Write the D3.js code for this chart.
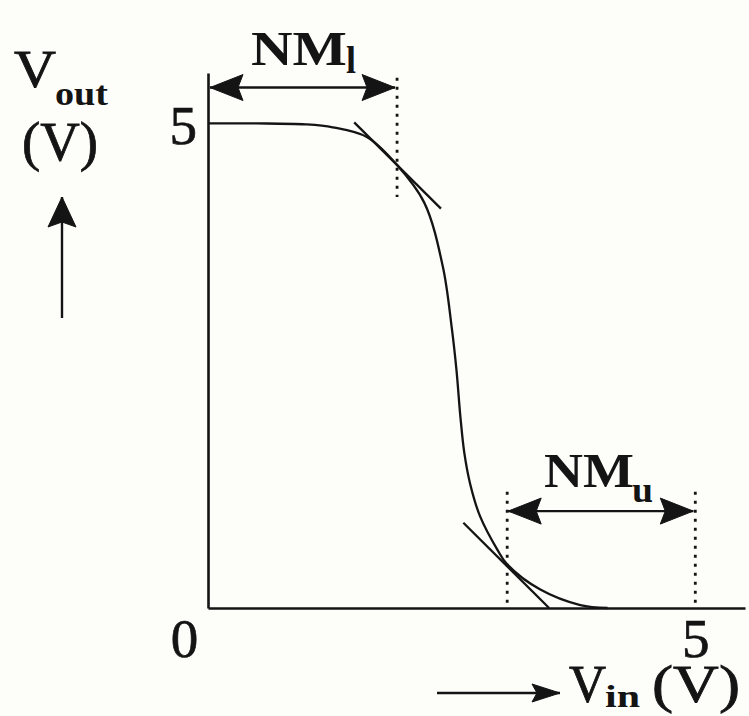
<!DOCTYPE html>
<html>
<head>
<meta charset="utf-8">
<script src="https://cdn.jsdelivr.net/npm/d3@7"></script>
<style>
  html, body { margin: 0; padding: 0; background: #fdfdfa; }
  svg { display: block; }
  text { font-family: "Liberation Serif", "Times New Roman", serif; fill: #141414; }
</style>
</head>
<body>
<svg id="chart" width="749" height="716"></svg>
<script>
// Inverter voltage transfer characteristic
const vin  = [0, 0.5, 1.0, 1.28, 1.63, 1.94, 2.22, 2.41, 2.50, 2.55, 2.59, 2.63, 2.69, 2.79, 2.97, 3.07, 3.41, 3.82, 4.1];
const vout = [5.0, 5.0, 4.99, 4.96, 4.86, 4.57, 4.18, 3.52, 2.90, 2.45, 1.97, 1.60, 1.28, 0.95, 0.60, 0.45, 0.19, 0.03, 0];

// Unity-gain tangents at the two switching points
const tangentHigh = [[1.50, 5.01], [2.39, 4.12]];
const tangentLow  = [[2.62, 0.88], [3.50, 0.0]];

// Switching thresholds and rail
const VIL = 1.94;
const VIH = 3.07;
const VDD = 5;

const xTicks = [0, 5];
const yTicks = [5];

const ink = "#141414";
const svg = d3.select("#chart");

const x = d3.scaleLinear().domain([0, 5.51]).range([208, 745]);
const y = d3.scaleLinear().domain([0, 5.52]).range([608, 73]);

// Axes
const xAxis = svg.append("g")
  .attr("transform", `translate(0,${y(0)})`)
  .call(d3.axisBottom(x).tickValues(xTicks).tickSize(0).tickPadding(10).tickFormat(d3.format("d")));
const yAxis = svg.append("g")
  .attr("transform", `translate(${x(0)},0)`)
  .call(d3.axisLeft(y).tickValues(yTicks).tickSize(0).tickPadding(11).tickFormat(d3.format("d")));

[xAxis, yAxis].forEach(g => {
  g.select(".domain").attr("stroke", ink).attr("stroke-width", 2.6);
  g.selectAll("text").attr("font-size", 55).attr("fill", ink)
    .attr("stroke", ink).attr("stroke-width", 0.7)
    .style("font-family", "'Liberation Serif', serif");
});
xAxis.selectAll(".tick text").filter(d => d === 0).attr("dx", -24);
yAxis.selectAll(".tick text").attr("dy", "0.36em");

// Transfer curve
const smooth = d3.line().x(d => x(d[0])).y(d => y(d[1])).curve(d3.curveCatmullRom.alpha(0.5));
svg.append("path")
  .datum(vin.map((v, i) => [v, vout[i]]))
  .attr("d", smooth)
  .attr("fill", "none").attr("stroke", ink).attr("stroke-width", 2.3);

const straight = d3.line().x(d => x(d[0])).y(d => y(d[1]));
[tangentHigh, tangentLow].forEach(t => {
  svg.append("path").attr("d", straight(t))
    .attr("fill", "none").attr("stroke", ink).attr("stroke-width", 2.3);
});

// Dotted threshold markers
const dotted = [
  [[VIL, 5.47], [VIL, 4.24]],
  [[VIH, 1.20], [VIH, 0]],
  [[VDD, 1.20], [VDD, 0]]
];
dotted.forEach(seg => {
  svg.append("path").attr("d", straight(seg))
    .attr("stroke", ink).attr("stroke-width", 2.8)
    .attr("stroke-dasharray", "3 6").attr("fill", "none");
});

// Arrow helper: shaft plus filled head at the end(s)
function arrowHead(tx, ty, angle, len, half) {
  const c = Math.cos(angle), s = Math.sin(angle);
  const p = (a, b) => [tx + a * c - b * s, ty + a * s + b * c];
  const pts = [p(0, 0), p(-len, -half), p(-len + 5, 0), p(-len, half)];
  svg.append("path").attr("d", "M" + pts.map(q => q.join(",")).join("L") + "Z")
    .attr("fill", ink).attr("stroke", ink).attr("stroke-width", 1);
}
function arrow(x1, y1, x2, y2, both, len, half) {
  svg.append("line").attr("x1", x1).attr("y1", y1).attr("x2", x2).attr("y2", y2)
    .attr("stroke", ink).attr("stroke-width", 2.4);
  const a = Math.atan2(y2 - y1, x2 - x1);
  arrowHead(x2, y2, a, len, half);
  if (both) arrowHead(x1, y1, a + Math.PI, len, half);
}

// Noise margin spans
arrow(x(0) + 2, y(5.37), x(VIL) - 2, y(5.37), true, 33, 13);
arrow(x(VIH) + 1, y(1.0), x(VDD) - 2, y(1.0), true, 33, 13);

// Axis direction arrows
arrow(62, 318, 62, 197, false, 30, 14);
arrow(437, 693, 560, 693, false, 28, 9);

// Text labels
function label(str, px, py, size, weight, len) {
  const t = svg.append("text").attr("x", px).attr("y", py)
    .attr("font-size", size).attr("font-weight", weight).text(str);
  if (weight === "normal") t.attr("stroke", ink).attr("stroke-width", 0.8);
  if (len) t.attr("textLength", len).attr("lengthAdjust", "spacingAndGlyphs");
  return t;
}

label("V", 14, 87, 52, "normal", 42);
label("out", 55, 105, 34, "bold", 53);
label("(V)", 22, 160, 55, "normal", 76);

label("NM", 251, 65, 48, "bold", 96);
label("l", 346, 73, 38, "bold", 10);

label("NM", 544, 487, 48, "bold", 90);
label("u", 632, 502, 36, "bold", 21);

label("V", 569, 702, 52, "normal", 37);
label("in", 605, 707, 32, "bold", 35);
label("(V)", 652, 702, 52, "normal", 88);
</script>
</body>
</html>
